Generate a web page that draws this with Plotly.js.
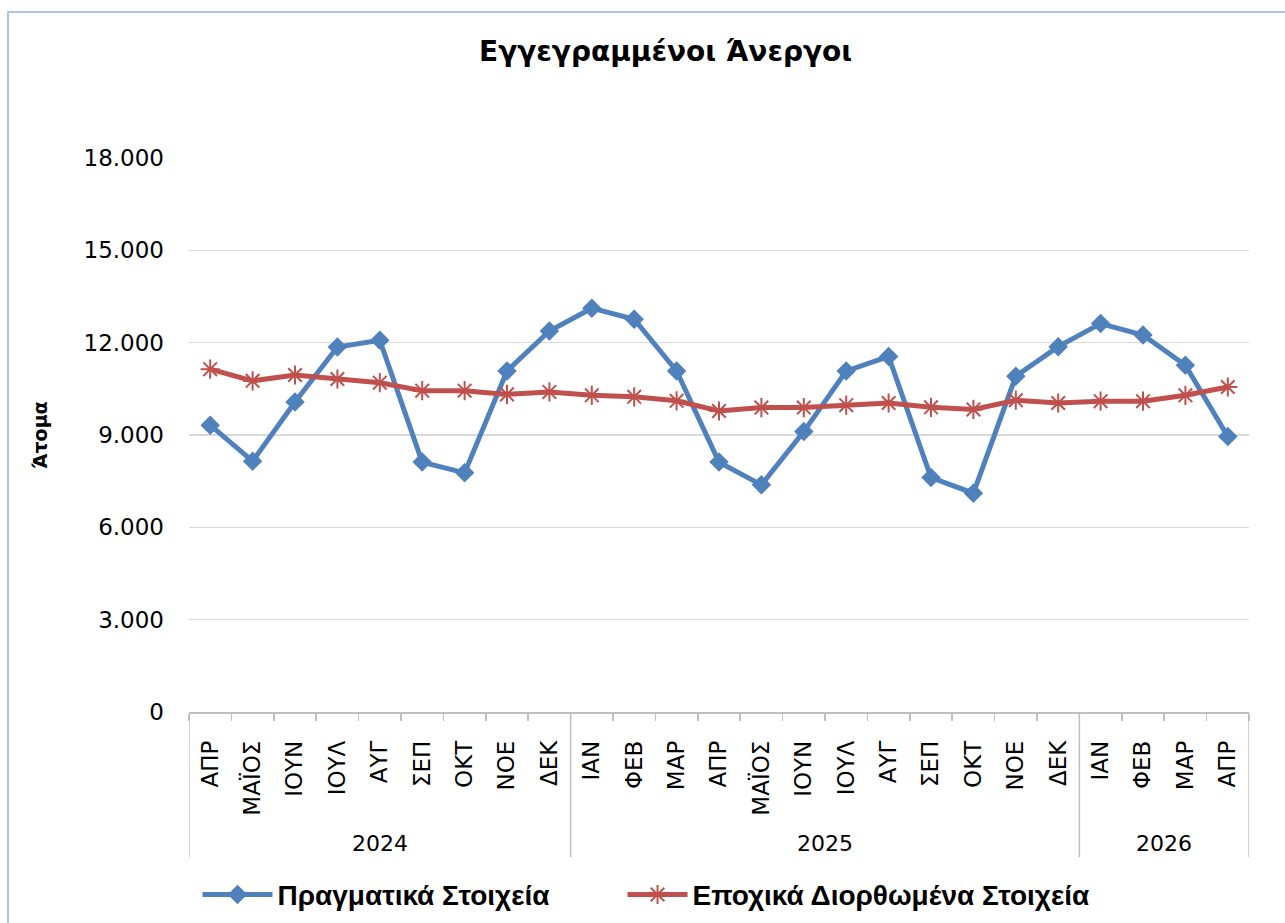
<!DOCTYPE html>
<html>
<head>
<meta charset="utf-8">
<script src="https://cdn.plot.ly/plotly-3.0.1.min.js"></script>
<style>
html,body{margin:0;padding:0;background:#fff;overflow:hidden;}
#frame{position:absolute;left:7px;top:11px;width:1300px;height:1000px;border-left:2px solid #A9C6EA;border-top:2px solid #A9C6EA;box-sizing:border-box;pointer-events:none;z-index:10;}
#chart{position:absolute;left:0;top:0;width:1285px;height:923px;}
</style>
</head>
<body>
<div id="chart"></div>
<div id="frame"></div>
<script>
const years = ["2024","2024","2024","2024","2024","2024","2024","2024","2024",
  "2025","2025","2025","2025","2025","2025","2025","2025","2025","2025","2025","2025",
  "2026","2026","2026","2026"];
const months = ["ΑΠΡ","ΜΑΪΟΣ","ΙΟΥΝ","ΙΟΥΛ","ΑΥΓ","ΣΕΠ","ΟΚΤ","ΝΟΕ","ΔΕΚ",
  "ΙΑΝ","ΦΕΒ","ΜΑΡ","ΑΠΡ","ΜΑΪΟΣ","ΙΟΥΝ","ΙΟΥΛ","ΑΥΓ","ΣΕΠ","ΟΚΤ","ΝΟΕ","ΔΕΚ",
  "ΙΑΝ","ΦΕΒ","ΜΑΡ","ΑΠΡ"];
const actual = [9320,8150,10070,11860,12080,8120,7770,11080,12380,
  13120,12760,11080,8120,7380,9110,11080,11550,7620,7110,10910,11870,
  12620,12250,11270,8950];
const seasonal = [11140,10760,10950,10820,10700,10440,10440,10320,10400,
  10290,10240,10110,9780,9890,9890,9970,10040,9900,9830,10130,10040,
  10100,10100,10290,10560];
const yTicks = [0,3000,6000,9000,12000,15000,18000];
const yTickText = ["0","3.000","6.000","9.000","12.000","15.000","18.000"];

const idx = months.map((m,i)=>i);

// year groups derived from the years array
const groups = [];
years.forEach((y,i)=>{
  if(!groups.length || groups[groups.length-1].year !== y) groups.push({year:y, start:i, end:i});
  else groups[groups.length-1].end = i;
});
const boundaries = [];
for(let i=0;i<=months.length;i++) boundaries.push(i-0.5);

const DIV_BOTTOM = -0.262;
const shapes = [];
groups.forEach((g,k)=>{
  if(k===0) shapes.push({type:"line", xref:"x", yref:"paper", x0:g.start-0.5, x1:g.start-0.5, y0:0, y1:DIV_BOTTOM, line:{color:"#BFBFBF", width:1.5}});
  shapes.push({type:"line", xref:"x", yref:"paper", x0:g.end+0.5, x1:g.end+0.5, y0:0, y1:DIV_BOTTOM, line:{color:"#BFBFBF", width:1.5}});
});
const annotations = groups.map(g=>({
  xref:"x", yref:"paper", x:(g.start+g.end)/2, y:-0.2365, text:g.year, showarrow:false,
  xanchor:"center", yanchor:"middle",
  font:{size:22, family:"DejaVu Sans, Verdana, sans-serif", color:"#000"}
}));

const traces = [
  {x:idx, y:actual, type:"scatter", mode:"lines+markers",
   name:"Πραγματικά Στοιχεία", legend:"legend",
   line:{color:"#4F81BD", width:5},
   marker:{symbol:"diamond", size:15, color:"#4F81BD"}},
  {x:idx, y:seasonal, type:"scatter", mode:"lines+markers",
   name:"Εποχικά Διορθωμένα Στοιχεία", legend:"legend2",
   line:{color:"#C0504D", width:5},
   marker:{symbol:"asterisk-open", size:16, color:"#C0504D", line:{color:"#C0504D", width:2}}}
];

const legendFont = {size:28, family:"Liberation Sans Narrow, Arial Narrow, Liberation Sans, sans-serif", color:"#000", weight:"bold"};

const layout = {
  width:1285, height:923,
  paper_bgcolor:"#fff", plot_bgcolor:"#fff",
  margin:{l:189, r:36, t:158, b:211, autoexpand:false},
  font:{family:"DejaVu Sans, Verdana, sans-serif", color:"#000"},
  title:{text:"<b>Εγγεγραμμένοι Άνεργοι</b>", x:0.518, xanchor:"center", y:0.944, yanchor:"middle",
    font:{size:28, family:"DejaVu Sans, Verdana, sans-serif", color:"#000"}},
  showlegend:true,
  legend:{orientation:"h", x:0.008, xanchor:"left", y:-0.330, yanchor:"middle",
    font:legendFont, itemwidth:70},
  legend2:{orientation:"h", x:0.409, xanchor:"left", y:-0.330, yanchor:"middle",
    font:legendFont, itemwidth:60},
  shapes:shapes,
  annotations:annotations,
  xaxis:{type:"linear", range:[-0.5, months.length-0.5], tickvals:idx, ticktext:months,
    showgrid:false, zeroline:false, showline:true, linecolor:"#BFBFBF", linewidth:1.5,
    ticks:"", tickangle:-90, ticklabelstandoff:18,
    tickfont:{size:23, family:"DejaVu Sans, Verdana, sans-serif", color:"#000"},
    minor:{tickvals:boundaries, ticks:"outside", ticklen:7, tickcolor:"#BFBFBF", tickwidth:1.5, showgrid:false},
    automargin:false, fixedrange:true},
  yaxis:{range:[0,18000], tickvals:yTicks, ticktext:yTickText, showgrid:true, gridcolor:"#D9D9D9", gridwidth:1.5,
    zeroline:false, showline:false, ticks:"", ticklabelstandoff:24,
    tickfont:{size:23, family:"DejaVu Sans, Verdana, sans-serif", color:"#000"},
    title:{text:"<b>Άτομα</b>", standoff:30, font:{size:19, family:"DejaVu Sans, Verdana, sans-serif", color:"#000"}},
    automargin:false, fixedrange:true}
};

Plotly.newPlot("chart", traces, layout, {displayModeBar:false, staticPlot:true});
</script>
</body>
</html>
